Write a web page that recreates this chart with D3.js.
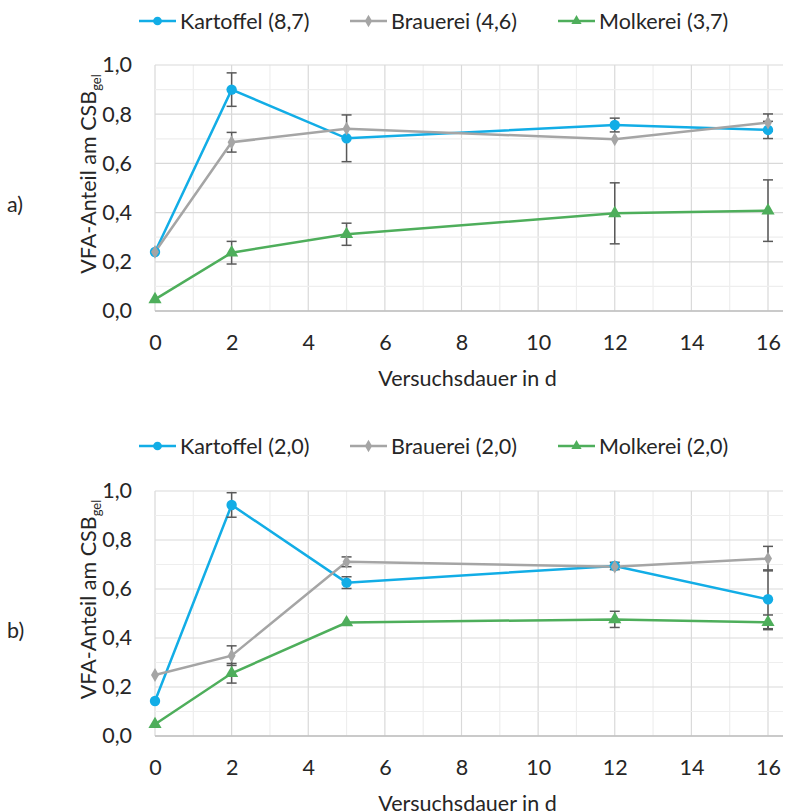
<!DOCTYPE html>
<html>
<head>
<meta charset="utf-8">
<script src="https://cdn.jsdelivr.net/npm/d3@7"></script>
<style>
  body { margin: 0; background: #fff; }
  text { font-family: Lato, "Open Sans", sans-serif; fill: #262626; }
</style>
</head>
<body>
<script>
// days of the experiment
let days = [0, 2, 5, 12, 16];
let seriesNames = ["Kartoffel", "Brauerei", "Molkerei"];

// panel a)
let legendA = ["Kartoffel (8,7)", "Brauerei (4,6)", "Molkerei (3,7)"];
let kartoffelA = [0.24, 0.90, 0.702, 0.756, 0.736];
let kartoffelErrA = [0, 0.068, 0.095, 0.028, 0.035];
let brauereiA = [0.24, 0.686, 0.741, 0.698, 0.766];
let brauereiErrA = [0, 0.04, 0, 0, 0.035];
let molkereiA = [0.047, 0.237, 0.312, 0.397, 0.408];
let molkereiErrA = [0, 0.046, 0.045, 0.124, 0.125];

// panel b)
let legendB = ["Kartoffel (2,0)", "Brauerei (2,0)", "Molkerei (2,0)"];
let kartoffelB = [0.143, 0.943, 0.626, 0.694, 0.558];
let kartoffelErrB = [0, 0.05, 0.024, 0.015, 0.12];
let brauereiB = [0.249, 0.328, 0.711, 0.691, 0.724];
let brauereiErrB = [0, 0.04, 0.02, 0, 0.05];
let molkereiB = [0.048, 0.256, 0.463, 0.476, 0.464];
let molkereiErrB = [0, 0.04, 0, 0.033, 0.03];

let yTicks = [0, 0.2, 0.4, 0.6, 0.8, 1.0];
let xTicks = [0, 2, 4, 6, 8, 10, 12, 14, 16];

let colors = {Kartoffel: "#12ADE6", Brauerei: "#A5A5A5", Molkerei: "#4EAE5B"};
let fmt = v => d3.format(".1f")(v).replace(".", ",");
let fs = "21.5px";

let svg = d3.select("body").append("svg")
  .attr("width", 785)
  .attr("height", 812);

let x = d3.scaleLinear().domain([0, 16]).range([155, 768]);

function symFor(name) {
  return name === "Kartoffel" ? d3.symbolCircle : name === "Brauerei" ? d3.symbolDiamond : d3.symbolTriangle;
}

function drawPanel(opts) {
  let y = d3.scaleLinear().domain([0, 1]).range([opts.bottom, opts.top]);
  let g = svg.append("g");
  let plotRight = 783;

  // grid (major every 2 / 0.2, minor every 1 / 0.1)
  d3.range(0, 17, 1).forEach(v => {
    g.append("line").attr("x1", x(v)).attr("x2", x(v))
      .attr("y1", y(1)).attr("y2", y(0))
      .attr("stroke", v % 2 === 0 ? "#D9D9D9" : "#EEEEEE").attr("stroke-width", 1.2);
  });
  d3.range(0, 1.01, 0.1).forEach((v, i) => {
    g.append("line").attr("x1", x(0)).attr("x2", plotRight)
      .attr("y1", y(v)).attr("y2", y(v))
      .attr("stroke", i % 2 === 0 ? "#D9D9D9" : "#EEEEEE").attr("stroke-width", 1.2);
  });
  g.append("line").attr("x1", x(0)).attr("x2", plotRight)
    .attr("y1", y(0)).attr("y2", y(0))
    .attr("stroke", "#BFBFBF").attr("stroke-width", 1.5);

  let xAxis = d3.axisBottom(x).tickValues(xTicks).tickSize(0).tickPadding(0);
  g.append("g").attr("transform", "translate(0," + (opts.bottom + 24) + ")")
    .call(xAxis)
    .call(a => a.select(".domain").remove())
    .selectAll("text").style("font-size", fs).style("font-family", "Lato, sans-serif").attr("fill", "#262626");

  let yAxis = d3.axisLeft(y).tickValues(yTicks).tickFormat(fmt).tickSize(0).tickPadding(0);
  g.append("g").attr("transform", "translate(132,0)")
    .call(yAxis)
    .call(a => a.select(".domain").remove())
    .selectAll("text").style("font-size", fs).style("font-family", "Lato, sans-serif").attr("fill", "#262626");

  // axis titles
  g.append("text").attr("x", (x(0) + x(16)) / 2 + 6).attr("y", opts.bottom + 75)
    .attr("text-anchor", "middle").style("font-size", fs).text("Versuchsdauer in d");

  let yt = g.append("text")
    .attr("transform", "translate(96," + ((opts.top + opts.bottom) / 2 - 14) + ") rotate(-90)")
    .attr("text-anchor", "middle").style("font-size", fs);
  yt.append("tspan").text("VFA-Anteil am CSB");
  yt.append("tspan").attr("dy", 5).style("font-size", "13px").text("gel");

  // panel label
  g.append("text").attr("x", 7).attr("y", (opts.top + opts.bottom) / 2 + 24)
    .style("font-size", fs).text(opts.label);

  let series = [
    {name: "Kartoffel", vals: opts.k, err: opts.ke},
    {name: "Brauerei", vals: opts.b, err: opts.be},
    {name: "Molkerei", vals: opts.m, err: opts.me}
  ];

  let line = d3.line().x(d => x(d.x)).y(d => y(d.v));
  series.forEach(s => {
    let pts = days.map((d, i) => ({x: d, v: s.vals[i]}));
    g.append("path").datum(pts).attr("d", line)
      .attr("fill", "none").attr("stroke", colors[s.name]).attr("stroke-width", 2.5);
  });

  // error bars
  series.forEach(s => {
    days.forEach((d, i) => {
      let e = s.err[i];
      if (!e) return;
      let cx = x(d), y1 = y(s.vals[i] + e), y2 = y(s.vals[i] - e);
      g.append("line").attr("x1", cx).attr("x2", cx).attr("y1", y1).attr("y2", y2)
        .attr("stroke", "#595959").attr("stroke-width", 1.5);
      [y1, y2].forEach(yy => {
        g.append("line").attr("x1", cx - 5).attr("x2", cx + 5).attr("y1", yy).attr("y2", yy)
          .attr("stroke", "#595959").attr("stroke-width", 1.5);
      });
    });
  });

  // markers
  series.forEach(s => {
    let size = s.name === "Kartoffel" ? 85 : s.name === "Brauerei" ? 55 : 75;
    g.selectAll(null).data(days.map((d, i) => ({x: d, v: s.vals[i]})))
      .enter().append("path")
      .attr("d", d3.symbol().type(symFor(s.name)).size(size))
      .attr("transform", d => "translate(" + x(d.x) + "," + y(d.v) + ")")
      .attr("fill", colors[s.name]);
  });

  // legend
  let lx = [139, 350, 558];
  series.forEach((s, i) => {
    let lg = g.append("g").attr("transform", "translate(" + lx[i] + "," + opts.legendY + ")");
    lg.append("line").attr("x1", 0).attr("x2", 37).attr("stroke", colors[s.name]).attr("stroke-width", 2.5);
    lg.append("path").attr("d", d3.symbol().type(symFor(s.name)).size(s.name === "Kartoffel" ? 60 : 45))
      .attr("transform", "translate(18.5,0)").attr("fill", colors[s.name]);
    lg.append("text").attr("x", 41).attr("dy", "0.35em").style("font-size", fs).text(opts.legend[i]);
  });
}

drawPanel({top: 65, bottom: 311, legendY: 21, label: "a)", legend: legendA,
  k: kartoffelA, ke: kartoffelErrA, b: brauereiA, be: brauereiErrA, m: molkereiA, me: molkereiErrA});
drawPanel({top: 491, bottom: 736, legendY: 446, label: "b)", legend: legendB,
  k: kartoffelB, ke: kartoffelErrB, b: brauereiB, be: brauereiErrB, m: molkereiB, me: molkereiErrB});
</script>
</body>
</html>
